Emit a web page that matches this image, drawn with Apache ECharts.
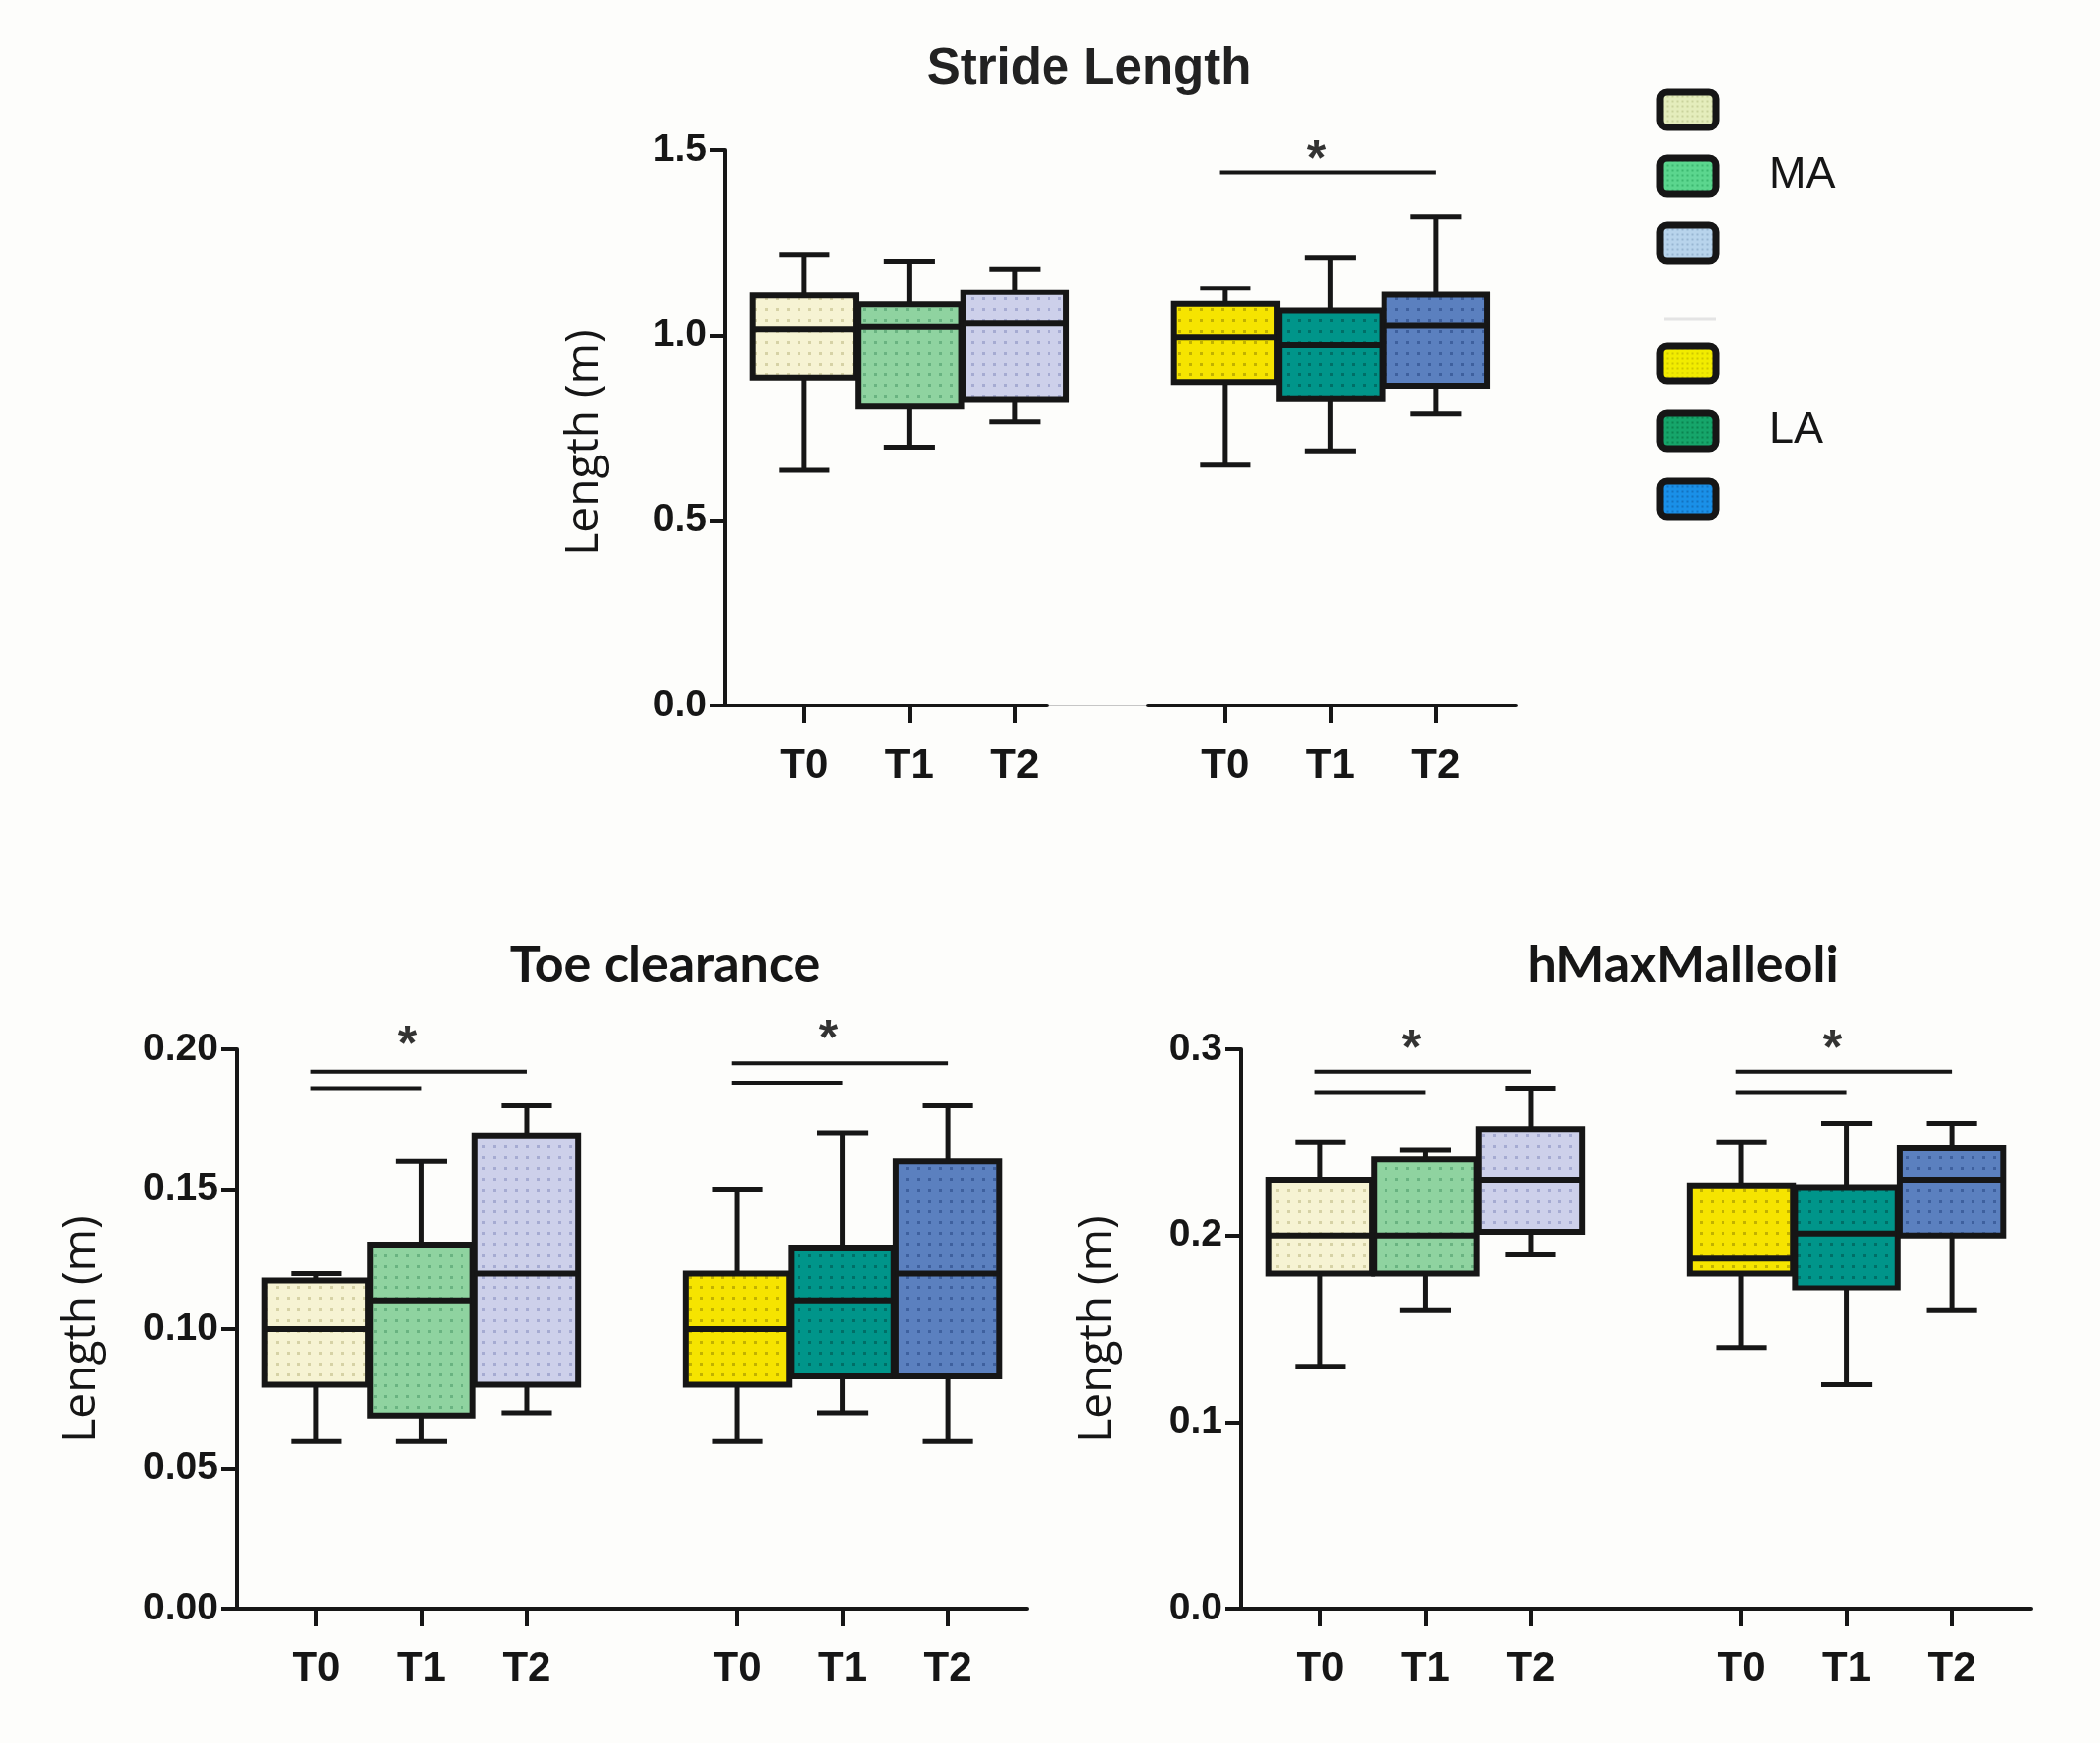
<!DOCTYPE html>
<html lang="en">
<head>
<meta charset="UTF-8">
<title>Stride Length, Toe clearance, hMaxMalleoli</title>
<style>
    html, body { margin: 0; padding: 0; background: #fdfdfb; }
    #chart { width: 2125px; height: 1764px; }
</style>
<script src="https://cdn.jsdelivr.net/npm/echarts@6/dist/echarts.min.js"></script>
</head>
<body>
<div id="chart"></div>
<script>
    // values
    var timeLabels = ['T0', 'T1', 'T2'];
    var groupLabels = ['MA', 'LA'];

    // one row per time point: [min, Q1, median, Q3, max]
    var strideMA = [[0.635, 0.884, 1.016, 1.107, 1.218], [0.698, 0.808, 1.023, 1.083, 1.200], [0.767, 0.826, 1.032, 1.116, 1.179]];
    var strideLA = [[0.649, 0.872, 0.995, 1.084, 1.127], [0.688, 0.828, 0.974, 1.066, 1.210], [0.788, 0.862, 1.026, 1.109, 1.319]];
    var toeMA = [[0.060, 0.080, 0.100, 0.1175, 0.120], [0.060, 0.069, 0.110, 0.130, 0.160], [0.070, 0.080, 0.120, 0.169, 0.180]];
    var toeLA = [[0.060, 0.080, 0.100, 0.120, 0.150], [0.070, 0.083, 0.110, 0.129, 0.170], [0.060, 0.083, 0.120, 0.160, 0.180]];
    var hmaxMA = [[0.130, 0.180, 0.200, 0.230, 0.250], [0.160, 0.180, 0.200, 0.241, 0.246], [0.190, 0.202, 0.230, 0.257, 0.279]];
    var hmaxLA = [[0.140, 0.180, 0.188, 0.227, 0.250], [0.120, 0.172, 0.201, 0.226, 0.260], [0.160, 0.200, 0.230, 0.247, 0.260]];

    // significance bars: [group, last time index, height]
    var strideSig = [[1, 2, 1.44]];
    var toeSig = [[0, 2, 0.192], [0, 1, 0.186], [1, 2, 0.195], [1, 1, 0.188]];
    var hmaxSig = [[0, 2, 0.288], [0, 1, 0.277], [1, 2, 0.288], [1, 1, 0.277]];
    // asterisks: [group, height]
    var strideStar = [[1, 1.507]];
    var toeStar = [[0, 0.206], [1, 0.208]];
    var hmaxStar = [[0, 0.307], [1, 0.307]];

    var maFill = ['#f6f3d3', '#8fd3a0', '#cdd0ea'];
    var maDot = ['#d6d2a6', '#69b381', '#a6abd2'];
    var laFill = ['#f6e400', '#00958a', '#5b80bf'];
    var laDot = ['#c2b200', '#006f67', '#3e609e'];
    var keyMA = ['#e4edbc', '#5bd68e', '#b8d4ec'];
    var keyMADot = ['#c9d39c', '#3cb870', '#98b6d2'];
    var keyLA = ['#f2ec00', '#16a56a', '#1a90e8'];
    var keyLADot = ['#cfc800', '#0b8450', '#1372c0'];

    var INK = '#161616';
    var NUM_FONT = '"Liberation Sans", Arial, sans-serif';
    var UNIT = 106.5; // px from one time point to the next

    function dots(fill, dot, step, size) {
        var c = document.createElement('canvas');
        c.width = step;
        c.height = step;
        var g = c.getContext('2d');
        g.fillStyle = fill;
        g.fillRect(0, 0, step, step);
        g.fillStyle = dot;
        g.fillRect((step - size) / 2, (step - size) / 2, size, size);
        return { image: c, repeat: 'repeat' };
    }

    var maPattern = maFill.map(function (f, i) { return dots(f, maDot[i], 11, 3); });
    var laPattern = laFill.map(function (f, i) { return dots(f, laDot[i], 11, 3); });

    // x position of a time point: groups sit 4 steps apart
    function boxData(group, rows) {
        return rows.map(function (r, t) { return [group * 4 + t].concat(r); });
    }
    function sigData(rows) {
        return rows.map(function (r) { return [r[0] * 4 - 0.05, r[0] * 4 + r[1], r[2]]; });
    }
    function starData(rows) {
        return rows.map(function (r) { return [r[0] * 4 + 1, r[1]]; });
    }

    function boxRenderer(patterns) {
        return function (params, api) {
            var x = api.value(0);
            var tl = api.coord([x - 0.49, api.value(4)]);
            var br = api.coord([x + 0.49, api.value(2)]);
            var pMed = api.coord([x, api.value(3)]);
            var pHi = api.coord([x, api.value(5)]);
            var pLo = api.coord([x, api.value(1)]);
            var cap = api.size([0.24, 0])[0];
            var line = { stroke: INK, lineWidth: 5 };
            return {
                type: 'group',
                children: [
                    { type: 'line', shape: { x1: pHi[0], y1: pHi[1], x2: pHi[0], y2: tl[1] }, style: line },
                    { type: 'line', shape: { x1: pHi[0] - cap, y1: pHi[1], x2: pHi[0] + cap, y2: pHi[1] }, style: line },
                    { type: 'line', shape: { x1: pLo[0], y1: pLo[1], x2: pLo[0], y2: br[1] }, style: line },
                    { type: 'line', shape: { x1: pLo[0] - cap, y1: pLo[1], x2: pLo[0] + cap, y2: pLo[1] }, style: line },
                    {
                        type: 'rect',
                        shape: { x: tl[0], y: tl[1], width: br[0] - tl[0], height: br[1] - tl[1] },
                        style: { fill: patterns[params.dataIndex], stroke: INK, lineWidth: 6 }
                    },
                    { type: 'line', shape: { x1: tl[0], y1: pMed[1], x2: br[0], y2: pMed[1] }, style: { stroke: INK, lineWidth: 6 } }
                ]
            };
        };
    }

    function renderSig(params, api) {
        var a = api.coord([api.value(0), api.value(2)]);
        var b = api.coord([api.value(1), api.value(2)]);
        return {
            type: 'line',
            shape: { x1: a[0], y1: a[1], x2: b[0], y2: b[1] },
            style: { stroke: INK, lineWidth: 4 }
        };
    }

    function boxSeries(axis, group, rows, patterns) {
        return {
            type: 'custom', xAxisIndex: axis, yAxisIndex: axis,
            renderItem: boxRenderer(patterns),
            encode: { x: 0, y: [1, 2, 3, 4, 5] },
            data: boxData(group, rows), silent: true
        };
    }
    function sigSeries(axis, rows) {
        return {
            type: 'custom', xAxisIndex: axis, yAxisIndex: axis,
            renderItem: renderSig, encode: { x: [0, 1], y: 2 },
            data: sigData(rows), silent: true
        };
    }
    function starSeries(axis, rows) {
        return {
            type: 'scatter', xAxisIndex: axis, yAxisIndex: axis, clip: false,
            symbolSize: 1, itemStyle: { color: 'rgba(0,0,0,0)' }, silent: true,
            label: {
                show: true, position: 'inside', formatter: '*', offset: [-14, 14],
                fontFamily: NUM_FONT, fontWeight: 'bold', fontSize: 50, color: '#000'
            },
            data: starData(rows)
        };
    }

    function xAxisFor(index, min, max, ticks) {
        return {
            type: 'value', gridIndex: index, min: min, max: max,
            axisLine: { show: true, onZero: false, lineStyle: { color: INK, width: 4 } },
            axisTick: { show: true, customValues: ticks, length: 18, lineStyle: { color: INK, width: 4 } },
            axisLabel: {
                customValues: ticks, margin: 40,
                formatter: function (v) { return timeLabels[Math.round(v) % 4]; },
                fontFamily: NUM_FONT, fontWeight: 'bold', fontSize: 42, color: INK
            },
            splitLine: { show: false }
        };
    }
    function yAxisFor(index, max, step, digits, show, nameGap, namePad) {
        return {
            type: 'value', gridIndex: index, min: 0, max: max, interval: step, show: show,
            name: show ? 'Length (m)' : '', nameLocation: 'middle', nameRotate: 90, nameGap: nameGap,
            nameTextStyle: { fontFamily: '"Open Sans", sans-serif', fontSize: 46, color: INK, padding: namePad },
            axisLine: { show: true, onZero: false, lineStyle: { color: INK, width: 4 } },
            axisTick: { show: true, length: 16, lineStyle: { color: INK, width: 4 } },
            axisLabel: {
                margin: 19, color: INK, fontFamily: NUM_FONT, fontWeight: 'bold', fontSize: 39,
                formatter: function (v) { return v.toFixed(digits); }
            },
            splitLine: { show: false }
        };
    }

    // grid geometry (px); first time point sits 0.75 step right of the y axis
    var topA = { left: 734, top: 152, width: 325, height: 562 };
    var topB = { left: 1162, top: 152, width: 372, height: 562 };
    var botL = { left: 240, top: 1062, width: 799, height: 566 };
    var botR = { left: 1256, top: 1062, width: 799, height: 566 };
    var topBMin = -0.75 + (topB.left - topA.left) / UNIT;

    var grids = [topA, topB, botL, botR].map(function (g) {
        return { left: g.left, top: g.top, width: g.width, height: g.height, outerBoundsMode: 'none' };
    });

    var titleFont = { fontFamily: 'Lato, "Open Sans", sans-serif', fontWeight: 'bold', fontSize: 52, color: INK };

    var legendItems = [];
    var keyY = [111, 178, 246, 368, 436, 505];
    keyMA.concat(keyLA).forEach(function (c, i) {
        var dot = keyMADot.concat(keyLADot)[i];
        legendItems.push({
            type: 'rect', silent: true,
            shape: { x: 1680, y: keyY[i] - 18, width: 56, height: 36, r: 7 },
            style: { fill: dots(c, dot, 5, 2), stroke: INK, lineWidth: 7 }
        });
    });
    groupLabels.forEach(function (g, i) {
        legendItems.push({
            type: 'text', silent: true, x: 1790, y: keyY[1 + i * 3],
            style: { text: g, fontFamily: NUM_FONT, fontSize: 45, fill: INK, verticalAlign: 'middle' }
        });
    });
    legendItems.push({ type: 'line', silent: true, shape: { x1: 1684, y1: 323, x2: 1736, y2: 323 }, style: { stroke: '#e4e4e4', lineWidth: 3 } });
    legendItems.push({ type: 'line', silent: true, shape: { x1: 1061, y1: 714, x2: 1161, y2: 714 }, style: { stroke: '#c6c6c6', lineWidth: 2 } });

    var chart = echarts.init(document.getElementById('chart'));
    chart.setOption({
        backgroundColor: '#fdfdfb',
        animation: false,
        title: [
            { text: 'Stride Length', left: 1097, top: 40, textAlign: 'center',
              textStyle: { fontFamily: NUM_FONT, fontWeight: 'bold', fontSize: 51, color: '#222' } },
            { text: 'Toe clearance', left: 668, top: 946, textAlign: 'center', textStyle: titleFont },
            { text: 'hMaxMalleoli', left: 1698, top: 946, textAlign: 'center', textStyle: titleFont }
        ],
        grid: grids,
        xAxis: [
            xAxisFor(0, -0.75, -0.75 + topA.width / UNIT, [0, 1, 2]),
            xAxisFor(1, topBMin, topBMin + topB.width / UNIT, [4, 5, 6]),
            xAxisFor(2, -0.75, 6.75, [0, 1, 2, 4, 5, 6]),
            xAxisFor(3, -0.75, 6.75, [0, 1, 2, 4, 5, 6])
        ],
        yAxis: [
            yAxisFor(0, 1.5, 0.5, 1, true, 119, [0, 30, 0, 0]),
            yAxisFor(1, 1.5, 0.5, 1, false, 0, 0),
            yAxisFor(2, 0.2, 0.05, 2, true, 134, 0),
            yAxisFor(3, 0.3, 0.1, 1, true, 122, 0)
        ],
        graphic: legendItems,
        series: [
            boxSeries(0, 0, strideMA, maPattern),
            boxSeries(1, 1, strideLA, laPattern),
            sigSeries(1, strideSig),
            starSeries(1, strideStar),
            boxSeries(2, 0, toeMA, maPattern),
            boxSeries(2, 1, toeLA, laPattern),
            sigSeries(2, toeSig),
            starSeries(2, toeStar),
            boxSeries(3, 0, hmaxMA, maPattern),
            boxSeries(3, 1, hmaxLA, laPattern),
            sigSeries(3, hmaxSig),
            starSeries(3, hmaxStar)
        ]
    });
</script>
</body>
</html>
